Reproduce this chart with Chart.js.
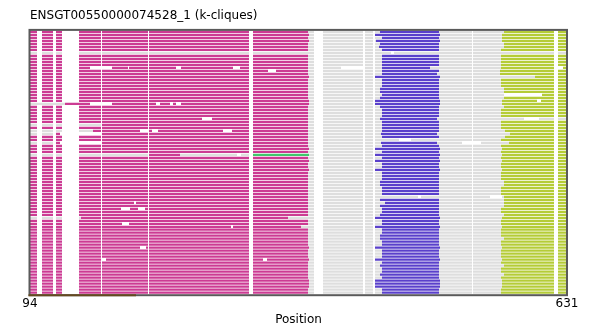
<!DOCTYPE html>
<html>
<head>
<meta charset="utf-8">
<script src="https://cdn.jsdelivr.net/npm/chart.js@4.4.0/dist/chart.umd.min.js"></script>
<style>
  body { margin: 0; background: #fff; }
  #wrap { width: 597px; height: 327px; }
</style>
</head>
<body>
<div id="wrap"><canvas id="chart" width="597" height="327"></canvas></div>
<script>
// Alignment positions shown on the x axis
const posMin = 94;
const posMax = 631;
const xTicks = [94, 631];
const rowCount = 88;

// Columns that are gaps in (almost) every sequence
const gapColumns = [[101, 106], [117, 120], [126, 143], [165, 166], [212, 213], [313, 317],
  [378, 387], [427, 429], [437, 439], [536, 537], [618, 622]];

// Per-sequence clique extents (null = not part of that clique)
const magEnd = [
  372, 373, 372, 373, 372, 372, 372, 94, 372, 372,
  372, 372, 372, 372, 372, 373, 372, 372, 372, 372,
  372, 372, 372, 373, 373, 372, 372, 372, 372, 372,
  372, 372, 372, 372, 372, 372, 372, 372, 372, 373,
  372, 373, 372, 373, 372, 372, 373, 372, 372, 372,
  372, 372, 372, 372, 372, 372, 372, 372, 372, 372,
  372, 372, 352, 372, 372, 365, 372, 372, 372, 372,
  372, 372, 373, 372, 372, 372, 373, 372, 372, 372,
  372, 372, 372, 373, 373, 373, 372, 372
];
const blueStart = [
  444, 439, 446, 440, 444, 443, 446, null, 446, 446,
  446, 446, 446, 446, 446, 439, 446, 446, 446, 444,
  444, 446, 444, 439, 439, 444, 446, 446, 446, 444,
  446, 446, 446, 446, 445, 446, null, 445, 446, 439,
  446, 439, 446, 439, 446, 446, 439, 446, 446, 446,
  444, 444, 446, 446, 446, null, 444, 449, 444, 446,
  446, 444, 439, 446, 446, 439, 446, 446, 444, 444,
  446, 446, 439, 446, 446, 446, 439, 446, 444, 446,
  446, 444, 446, 439, 439, 439, 446, 446
];
const blueEnd = [
  503, 504, 503, 504, 503, 503, 503, null, 503, 503,
  503, 503, 494, 503, 501, 504, 503, 503, 503, 503,
  503, 503, 503, 504, 504, 503, 503, 503, 503, 501,
  503, 503, 503, 503, 501, 503, null, 501, 503, 504,
  503, 504, 503, 504, 503, 503, 504, 503, 503, 503,
  503, 503, 503, 503, 503, null, 503, 503, 503, 503,
  503, 503, 504, 503, 503, 504, 503, 503, 503, 503,
  503, 503, 504, 503, 503, 503, 504, 503, 503, 503,
  503, 503, 503, 504, 504, 504, 503, 503
];
const limeStart = [
  568, 566, 566, 566, 568, 568, 565, null, 565, 565,
  565, 565, 565, 564, 564, 599, 565, 565, 565, 568,
  568, 568, 568, 566, 566, 568, 565, 565, 565, null,
  565, 565, 565, 569, 574, 569, 565, 573, 565, 566,
  565, 566, 565, 566, 565, 565, 566, 565, 565, 565,
  568, 568, 565, 565, 565, 568, 568, 568, 568, 565,
  565, 568, 566, 565, 565, 566, 565, 565, 565, 568,
  565, 565, 566, 565, 565, 565, 566, 565, 568, 565,
  565, 568, 565, 566, 566, 566, 565, 565
];

// Extra per-row pieces: [row, start, end, kind, overridesGaps]
const rowPatches = [
  [7, 455, 458, 'gap'],
  [12, 154, 176, 'gap'], [12, 192, 193, 'gap'], [12, 240, 245, 'gap'], [12, 297, 304, 'gap'],
  [12, 405, 427, 'gap'], [12, 622, 627, 'gap'],
  [13, 332, 340, 'gap'],
  [21, 568, 606, 'gap'],
  [23, 601, 605, 'gap'],
  [24, 94, 129, 'gray', true], [24, 129, 154, 'mag', true], [24, 154, 176, 'gap'],
  [24, 220, 224, 'gap'], [24, 234, 237, 'gap'], [24, 240, 245, 'gap'],
  [29, 266, 276, 'gap'], [29, 588, 603, 'gap'],
  [31, 94, 165, 'gray'],
  [33, 94, 157, 'gray'], [33, 204, 212, 'gap'], [33, 216, 222, 'gap'], [33, 287, 296, 'gap'],
  [34, 94, 120, 'gray'], [34, 124, 165, 'gap'],
  [36, 463, 475, 'gap'],
  [37, 94, 120, 'gray'], [37, 124, 165, 'gap'], [37, 526, 545, 'gap'],
  [41, 94, 213, 'gray'], [41, 244, 301, 'gray'], [41, 301, 305, 'gap'], [41, 305, 317, 'gray'],
  [41, 317, 373, 'green'],
  [55, 482, 485, 'gap'], [55, 554, 566, 'gap'],
  [57, 198, 200, 'gap'],
  [59, 185, 194, 'gap'], [59, 202, 209, 'gap'],
  [62, 94, 145, 'gray'],
  [64, 186, 193, 'gap'],
  [65, 295, 297, 'gap'],
  [72, 204, 210, 'gap'],
  [76, 165, 170, 'gap'], [76, 327, 331, 'gap']
];

// Annotated domain drawn along the bottom edge
const domainRange = [94, 200];

const palette = {
  mag: '#cc3b93',
  blue: '#5a40cb',
  lime: '#b5cc37',
  green: '#3fc76c',
  gray: '#dedede'
};

// Split one row into coloured runs; later layers win
function buildRow(r) {
  const layers = [];
  const end = limeStart[r] != null ? limeStart[r] : posMax;
  layers.push([posMin, magEnd[r], 'mag']);
  if (blueStart[r] != null) {
    layers.push([magEnd[r], blueStart[r], 'gray']);
    layers.push([blueStart[r], blueEnd[r], 'blue']);
    layers.push([blueEnd[r], end, 'gray']);
  } else {
    layers.push([magEnd[r], end, 'gray']);
  }
  if (limeStart[r] != null) layers.push([limeStart[r], posMax, 'lime']);

  const mine = rowPatches.filter(p => p[0] === r);
  mine.filter(p => p[3] !== 'gap' && !p[4]).forEach(p => layers.push([p[1], p[2], p[3]]));
  gapColumns.forEach(g => layers.push([g[0], g[1], 'gap']));
  mine.filter(p => p[3] === 'gap').forEach(p => layers.push([p[1], p[2], 'gap']));
  mine.filter(p => p[4]).forEach(p => layers.push([p[1], p[2], p[3]]));

  const cuts = [...new Set(layers.flatMap(l => [l[0], l[1]]))].sort((a, b) => a - b);
  const segs = [];
  for (let i = 0; i < cuts.length - 1; i++) {
    const a = cuts[i], b = cuts[i + 1], mid = (a + b) / 2;
    let kind = null;
    layers.forEach(l => { if (mid > l[0] && mid < l[1]) kind = l[2]; });
    if (!kind || kind === 'gap') continue;
    const last = segs[segs.length - 1];
    if (last && last[2] === kind && last[1] === a) last[1] = b;
    else segs.push([a, b, kind]);
  }
  return segs;
}

const rowLabels = Array.from({ length: rowCount }, (_, i) => String(i));
const rowSegs = rowLabels.map((_, r) => buildRow(r));
const maxSegs = Math.max(...rowSegs.map(s => s.length));

const datasets = [];
for (let k = 0; k < maxSegs; k++) {
  datasets.push({
    data: rowSegs.map(s => s[k] ? [s[k][0], s[k][1]] : null),
    backgroundColor: rowSegs.map(s => s[k] ? palette[s[k][2]] : 'rgba(0,0,0,0)'),
    grouped: false,
    barPercentage: 0.75,
    categoryPercentage: 1,
    borderWidth: 0,
    borderSkipped: false
  });
}

// Plot frame plus the domain track on the bottom edge
const framePlugin = {
  id: 'frame',
  afterDatasetsDraw(chart) {
    const { ctx, chartArea: a, scales: { x } } = chart;
    ctx.save();
    ctx.strokeStyle = '#5a5a5a';
    ctx.lineWidth = 2;
    ctx.strokeRect(a.left - 0.5, a.top - 0.5, a.right - a.left + 0.5, a.bottom - a.top + 1.5);
    ctx.strokeStyle = '#654a1f';
    ctx.beginPath();
    ctx.moveTo(x.getPixelForValue(domainRange[0]) - 1.5, a.bottom + 1);
    ctx.lineTo(x.getPixelForValue(domainRange[1]), a.bottom + 1);
    ctx.stroke();
    ctx.restore();
  }
};

const font = { family: "'DejaVu Sans', sans-serif", size: 12, weight: 'normal' };

new Chart(document.getElementById('chart'), {
  type: 'bar',
  data: { labels: rowLabels, datasets: datasets },
  plugins: [framePlugin],
  options: {
    responsive: false,
    devicePixelRatio: 1,
    animation: false,
    indexAxis: 'y',
    layout: { padding: { left: 30, right: 30, top: 0, bottom: 0 } },
    plugins: {
      legend: { display: false },
      tooltip: { enabled: false },
      title: {
        display: true,
        text: 'ENSGT00550000074528_1 (k-cliques)',
        align: 'start',
        fullSize: false,
        color: '#000',
        font: font,
        padding: { top: 9, bottom: 7 }
      }
    },
    scales: {
      x: {
        type: 'linear',
        min: posMin,
        max: posMax,
        afterBuildTicks: scale => { scale.ticks = xTicks.map(v => ({ value: v })); },
        grid: { display: false, drawTicks: false },
        border: { display: false },
        ticks: {
          color: '#000',
          font: font,
          padding: 2,
          maxRotation: 0,
          autoSkip: false,
          callback: v => String(v)
        },
        title: {
          display: true,
          text: 'Position',
          color: '#000',
          font: font,
          padding: { top: 0, bottom: 0 }
        }
      },
      y: { display: false }
    }
  }
});
</script>
</body>
</html>
